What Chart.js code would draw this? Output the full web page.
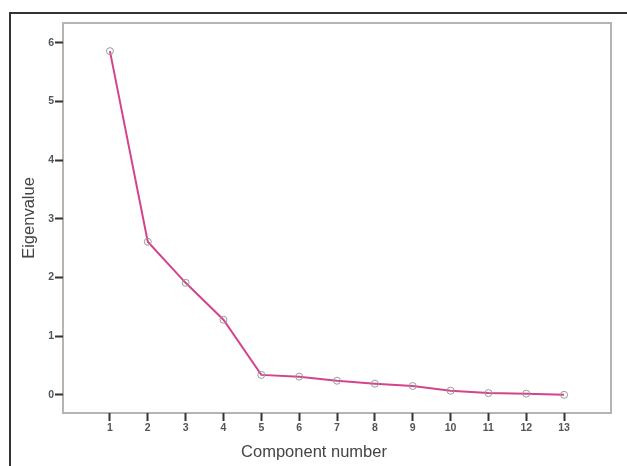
<!DOCTYPE html>
<html>
<head>
<meta charset="utf-8">
<script src="https://cdn.jsdelivr.net/npm/chart.js@4.4.1/dist/chart.umd.min.js"></script>
<style>
  body { margin: 0; background: #fff; }
  #wrap { position: relative; width: 627px; height: 466px; overflow: hidden; }
  #frame { position: absolute; left: 9px; top: 12px; width: 700px; height: 600px; border-left: 2px solid #333; border-top: 2px solid #333; }
  canvas { position: absolute; left: 0; top: 0; }
</style>
</head>
<body>
<div id="wrap">
  <div id="frame"></div>
  <canvas id="scree" width="627" height="466"></canvas>
</div>
<script>
// scree plot values
const components = [1, 2, 3, 4, 5, 6, 7, 8, 9, 10, 11, 12, 13];
const eigenvalues = [5.86, 2.61, 1.91, 1.28, 0.34, 0.31, 0.24, 0.19, 0.15, 0.07, 0.03, 0.02, 0.0];
const yTicks = [0, 1, 2, 3, 4, 5, 6];

const plotFrame = {
  id: 'plotFrame',
  beforeDraw(chart) {
    const { ctx, chartArea: a } = chart;
    ctx.save();
    ctx.strokeStyle = '#b9b3af';
    ctx.lineWidth = 2;
    ctx.strokeRect(a.left, a.top, a.right - a.left, a.bottom - a.top);
    ctx.restore();
  },
  afterDraw(chart) {
    // x axis title sits a bit left of the plot centre in the original
    const { ctx, chartArea: a } = chart;
    ctx.save();
    ctx.font = '16.5px "Liberation Sans", Arial, sans-serif';
    ctx.fillStyle = '#444';
    ctx.textAlign = 'center';
    ctx.textBaseline = 'middle';
    ctx.fillText('Component number', (a.left + a.right) / 2 - 23, 452);
    ctx.restore();
  }
};

new Chart(document.getElementById('scree'), {
  type: 'line',
  data: {
    labels: components,
    datasets: [{
      label: 'Eigenvalue',
      data: components.map((c, i) => ({ x: c, y: eigenvalues[i] })),
      borderColor: '#d4438c',
      borderWidth: 2,
      pointRadius: 3.5,
      pointBorderWidth: 1,
      pointBorderColor: '#9a9a9a',
      pointBackgroundColor: 'rgba(255,255,255,0)',
      tension: 0
    }]
  },
  options: {
    responsive: false,
    animation: false,
    layout: { padding: { top: 23, right: 16, left: 0, bottom: 0 } },
    plugins: { legend: { display: false }, tooltip: { enabled: false } },
    scales: {
      x: {
        type: 'linear',
        min: -0.24,
        max: 14.24,
        afterBuildTicks: (s) => { s.ticks = components.map(v => ({ value: v })); },
        afterFit: (s) => { s.height = 53; },
        border: { display: false },
        grid: { drawOnChartArea: false, drawTicks: true, tickLength: 8, tickWidth: 2, tickColor: '#333' },
        ticks: { padding: 1, color: '#555', font: { size: 10.5, weight: 'bold', family: '"Liberation Sans", Arial' } },
        title: { display: false }
      },
      y: {
        min: -0.31,
        max: 6.34,
        afterBuildTicks: (s) => { s.ticks = yTicks.map(v => ({ value: v })); },
        afterFit: (s) => { s.width = 63; },
        border: { display: false },
        grid: { drawOnChartArea: false, drawTicks: true, tickLength: 8, tickWidth: 2, tickColor: '#333' },
        ticks: { padding: 1, color: '#555', font: { size: 10.5, weight: 'bold', family: '"Liberation Sans", Arial' } },
        title: {
          display: true,
          text: 'Eigenvalue',
          color: '#444',
          font: { size: 16.5, family: '"Liberation Sans", Arial' },
          padding: 20
        }
      }
    }
  },
  plugins: [plotFrame]
});
</script>
</body>
</html>
